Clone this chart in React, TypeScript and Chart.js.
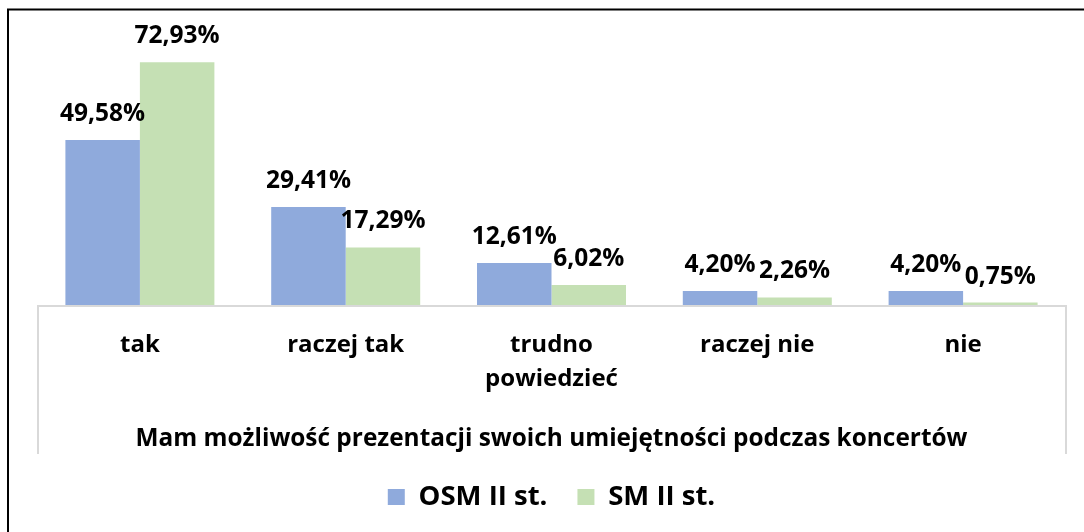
import { useEffect, useRef } from "react";
import { Chart, registerables } from "chart.js";

Chart.register(...registerables);

const categories: (string | string[])[] = ["tak", "raczej tak", ["trudno", "powiedzieć"], "raczej nie", "nie"];
const osmValues = [49.58, 29.41, 12.61, 4.2, 4.2];
const smValues = [72.93, 17.29, 6.02, 2.26, 0.75];
const seriesNames = ["OSM II st.", "SM II st."];
const seriesColors = ["#8FAADC", "#C5E0B4"];
const axisTitle = "Mam możliwość prezentacji swoich umiejętności podczas koncertów";

const FONT = "'Open Sans', 'DejaVu Sans', sans-serif";

const fmt = (v: number) => v.toFixed(2).replace(".", ",") + "%";

const decorPlugin = {
  id: "decor",
  beforeDraw(chart: any) {
    const ctx = chart.ctx;
    ctx.save();
    ctx.fillStyle = "#ffffff";
    ctx.fillRect(0, 0, chart.width, chart.height);
    ctx.strokeStyle = "#000000";
    ctx.lineWidth = 2;
    ctx.beginPath();
    ctx.moveTo(8, chart.height);
    ctx.lineTo(8, 9.5);
    ctx.lineTo(chart.width, 9.5);
    ctx.stroke();
    ctx.restore();
  },
  afterDatasetsDraw(chart: any) {
    const ctx = chart.ctx;
    const a = chart.chartArea;
    ctx.save();
    ctx.strokeStyle = "#D9D9D9";
    ctx.lineWidth = 2;
    ctx.beginPath();
    ctx.moveTo(a.left + 1, a.bottom + 149);
    ctx.lineTo(a.left + 1, a.bottom + 1);
    ctx.lineTo(a.right, a.bottom + 1);
    ctx.lineTo(a.right, a.bottom + 149);
    ctx.stroke();

    ctx.fillStyle = "#000000";
    ctx.font = `bold 24.5px ${FONT}`;
    ctx.textAlign = "center";
    ctx.textBaseline = "alphabetic";
    chart.data.datasets.forEach((ds: any, di: number) => {
      const meta = chart.getDatasetMeta(di);
      meta.data.forEach((el: any, i: number) => {
        ctx.fillText(fmt(ds.data[i]), el.x, el.y - 19);
      });
    });
    ctx.restore();
  },
};

export default function App() {
  const ref = useRef<HTMLCanvasElement | null>(null);
  useEffect(() => {
    if (!ref.current) return;
    const chart = new Chart(ref.current, {
      type: "bar",
      data: {
        labels: categories,
        datasets: [
          { label: seriesNames[0], data: osmValues, backgroundColor: seriesColors[0], barPercentage: 1, categoryPercentage: 0.724 },
          { label: seriesNames[1], data: smValues, backgroundColor: seriesColors[1], barPercentage: 1, categoryPercentage: 0.724 },
        ],
      },
      options: {
        animation: false,
        responsive: false,
        maintainAspectRatio: false,
        layout: { padding: { left: 37, right: 18, top: 38.6, bottom: 11.2 } },
        scales: {
          x: {
            grid: { display: false, drawTicks: false },
            border: { display: false },
            ticks: {
              color: "#000",
              font: { family: FONT, size: 24, weight: "bold", lineHeight: 1.38 },
              padding: 24,
              maxRotation: 0,
              autoSkip: false,
            },
            afterFit: (s: any) => {
              s.height = 87;
            },
          },
          y: { display: false, min: 0, max: 80 },
        },
        plugins: {
          legend: {
            position: "bottom",
            fullSize: false,
            labels: {
              boxWidth: 17,
              boxHeight: 16,
              padding: 30,
              color: "#000",
              font: { family: FONT, size: 27.5, weight: "bold" },
            },
          },
          title: {
            display: true,
            position: "bottom",
            fullSize: false,
            weight: 500,
            text: axisTitle,
            color: "#000",
            font: { family: FONT, size: 24.4, weight: "bold" },
            padding: { top: 31.9, bottom: 0.1 },
          },
          tooltip: { enabled: false },
        },
      } as any,
      plugins: [decorPlugin],
    });
    return () => chart.destroy();
  }, []);
  return (
    <div style={{ position: "fixed", left: 0, top: 0, width: 1084, height: 532 }}>
      <canvas ref={ref} width={1084} height={532} style={{ width: 1084, height: 532, display: "block" }} />
    </div>
  );
}
